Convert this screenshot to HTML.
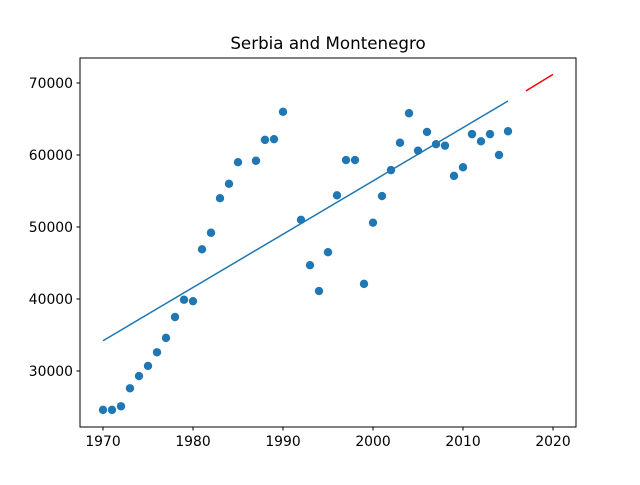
<!DOCTYPE html>
<html><head><meta charset="utf-8"><style>
body{margin:0;background:#fff;}
svg text{font-family:"DejaVu Sans","Liberation Sans",sans-serif;}
</style></head><body>
<svg id="chart" width="640" height="480" xmlns="http://www.w3.org/2000/svg">
<rect width="640" height="480" fill="#fff"/>
<text x="328" y="49" font-size="16.7" text-anchor="middle">Serbia and Montenegro</text>
<g id="plot"></g>
<rect x="80" y="58" width="496" height="369" fill="none" stroke="#000" stroke-width="1"/>
</svg>
<script>
const years=[1970,1971,1972,1973,1974,1975,1976,1977,1978,1979,1980,1981,1982,1983,1984,1985,1987,1988,1989,1990,1992,1993,1994,1995,1996,1997,1998,1999,2000,2001,2002,2003,2004,2005,2006,2007,2008,2009,2010,2011,2012,2013,2014,2015];
const values=[24600,24600,25100,27600,29300,30700,32600,34600,37500,39900,39700,46900,49200,54000,56000,59000,59200,62100,62200,66000,51000,44700,41100,46500,54400,59300,59300,42100,50600,54300,57900,61700,65800,60600,63200,61500,61300,57100,58300,62900,61900,62900,60000,63300];
const fitYears=[1970,2015];
const fitValues=[34200,67500];
const predYears=[2017,2020];
const predValues=[68900,71200];
const xTicks=[1970,1980,1990,2000,2010,2020];
const yTicks=[30000,40000,50000,60000,70000];
const NS="http://www.w3.org/2000/svg";
const X=v=>103+(v-1970)*9;
const Y=v=>83+(70000-v)*0.0072;
const g=document.getElementById('plot');
function mk(t,a){const e=document.createElementNS(NS,t);for(const k in a)e.setAttribute(k,a[k]);g.appendChild(e);return e;}
xTicks.forEach(t=>{
  const l=mk('line',{x1:X(t),x2:X(t),y1:427,y2:430.5,stroke:'#000'});
  
  
  const tx=mk('text',{x:X(t),y:446,'font-size':13.9,'text-anchor':'middle'});tx.textContent=t;
  
  
});
yTicks.forEach(t=>{
  const l=mk('line',{x1:76.5,x2:80,y1:Y(t),y2:Y(t),stroke:'#000'});
  
  
  const tx=mk('text',{x:73,y:Y(t)+5,'font-size':13.9,'text-anchor':'end'});tx.textContent=t;
  
  
});
years.forEach((yr,i)=>{
  const c=mk('circle',{cx:X(yr),cy:Y(values[i]),r:4.2,fill:'#1f77b4'});
  
  
});
const fl=mk('line',{x1:X(fitYears[0]),y1:Y(fitValues[0]),x2:X(fitYears[1]),y2:Y(fitValues[1]),stroke:'#1f77b4','stroke-width':1.5});


const pl=mk('line',{x1:X(predYears[0]),y1:Y(predValues[0]),x2:X(predYears[1]),y2:Y(predValues[1]),stroke:'#ff0000','stroke-width':1.5});


</script>
</body></html>
